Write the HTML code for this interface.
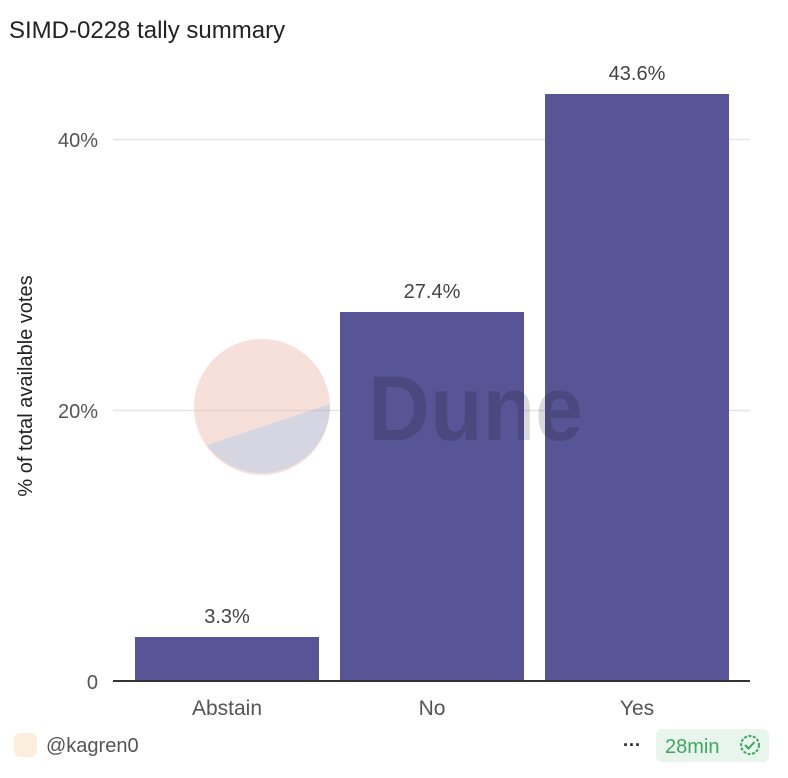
<!DOCTYPE html>
<html><head><style>
body{margin:0;background:#fff;width:788px;height:778px;overflow:hidden;font-family:"Liberation Sans",sans-serif}
</style></head><body>
<svg width="788" height="778" xmlns="http://www.w3.org/2000/svg" style="position:absolute;left:0;top:0">
<text x="9" y="38" font-size="24" fill="#222" font-family="Liberation Sans">SIMD-0228 tally summary</text>
<g stroke="#e6e6e6" stroke-width="1.5">
<line x1="113" y1="139.5" x2="750" y2="139.5"/>
<line x1="113" y1="410.5" x2="750" y2="410.5"/>
</g>
<g fill="#555" font-size="20" text-anchor="end">
<text x="98" y="147">40%</text>
<text x="98" y="418">20%</text>
<text x="98" y="689">0</text>
</g>
<text transform="translate(32,386) rotate(-90)" font-size="20" fill="#222" text-anchor="middle">% of total available votes</text>
<g fill="#575595">
<rect x="135" y="637" width="184" height="44"/>
<rect x="340" y="312" width="184" height="369"/>
<rect x="545" y="94" width="184" height="587"/>
</g>
<line x1="113" y1="681" x2="750" y2="681" stroke="#333" stroke-width="2"/>
<g fill="#444" font-size="20" text-anchor="middle">
<text x="227" y="623">3.3%</text>
<text x="432" y="298">27.4%</text>
<text x="637" y="80">43.6%</text>
</g>
<g fill="#555" font-size="21" text-anchor="middle">
<text x="227" y="715">Abstain</text>
<text x="432" y="715">No</text>
<text x="637" y="715">Yes</text>
</g>
<circle cx="262" cy="407" r="68" fill="#f7e0d9"/>
<path d="M207,445 L330,404 A68,68 0 0 1 207,445 Z" fill="#d6d6e3"/>
<line x1="194" y1="410.5" x2="330" y2="410.5" stroke="#000" stroke-opacity="0.06" stroke-width="1.5"/>
<text x="368" y="440" font-size="92" font-weight="bold" fill="#000" opacity="0.14" textLength="215" lengthAdjust="spacingAndGlyphs">Dune</text>
<rect x="14" y="733" width="23" height="24" rx="6" fill="#fbeedd"/>
<text x="46" y="752" font-size="20" fill="#555">@kagren0</text>
<text x="623" y="751" font-size="18" fill="#222" font-weight="bold">···</text>
<rect x="656" y="729" width="113" height="33" rx="6" fill="#e8f5ec"/>
<text x="665" y="753" font-size="20" fill="#3fa65f">28min</text>
<circle cx="750" cy="745" r="9" fill="none" stroke="#3fa65f" stroke-width="2" stroke-dasharray="3 1.5"/>
<path d="M745,745 l3.5,3.5 l6,-6.5" fill="none" stroke="#3fa65f" stroke-width="2"/>
</svg>
</body></html>
